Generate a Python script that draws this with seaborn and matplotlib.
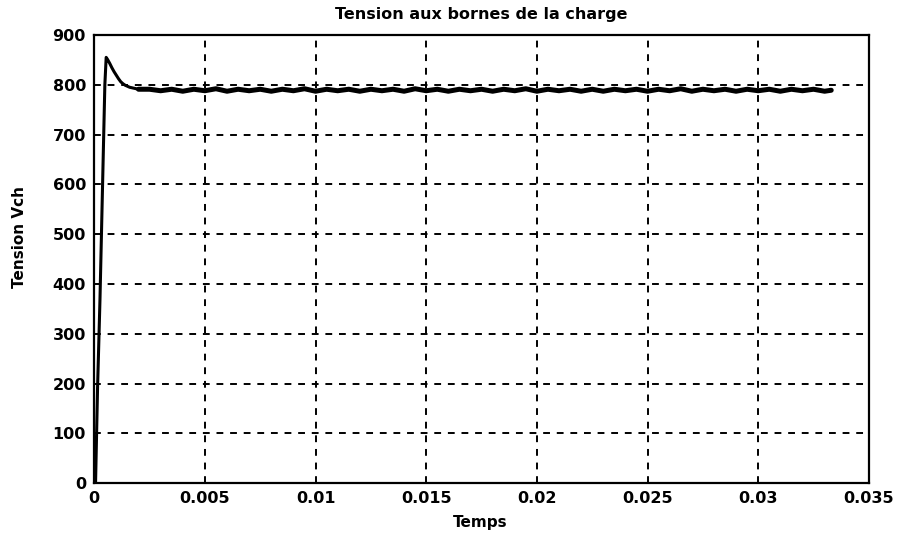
import matplotlib
matplotlib.use("Agg")
import matplotlib.pyplot as plt
import seaborn as sns
import pandas as pd
from matplotlib.ticker import FixedLocator, FixedFormatter

# ---- data ----
t_transient = [0.0, 0.00006, 0.00015, 0.00026, 0.00037, 0.00048, 0.00054,
               0.00060, 0.00070, 0.00080, 0.00090, 0.0010, 0.0011, 0.0012,
               0.0013, 0.0014, 0.0016, 0.0018, 0.0020]
v_transient = [0, 0, 190, 369, 585, 800, 855,
               851, 843, 834, 826, 819, 812, 806,
               802, 799, 795, 793, 791]

t_steady = [0.0025, 0.0030, 0.0035, 0.0040, 0.0045, 0.0050, 0.0055, 0.0060, 0.0065, 0.0070,
            0.0075, 0.0080, 0.0085, 0.0090, 0.0095, 0.0100, 0.0105, 0.0110, 0.0115, 0.0120,
            0.0125, 0.0130, 0.0135, 0.0140, 0.0145, 0.0150, 0.0155, 0.0160, 0.0165, 0.0170,
            0.0175, 0.0180, 0.0185, 0.0190, 0.0195, 0.0200, 0.0205, 0.0210, 0.0215, 0.0220,
            0.0225, 0.0230, 0.0235, 0.0240, 0.0245, 0.0250, 0.0255, 0.0260, 0.0265, 0.0270,
            0.0275, 0.0280, 0.0285, 0.0290, 0.0295, 0.0300, 0.0305, 0.0310, 0.0315, 0.0320,
            0.0325, 0.0330, 0.0333]
v_steady = [791, 788, 791, 787, 791, 788, 792, 787, 791, 788,
            791, 787, 791, 788, 792, 787, 791, 788, 791, 787,
            791, 788, 791, 787, 792, 788, 791, 787, 791, 788,
            791, 787, 791, 788, 792, 787, 791, 788, 791, 787,
            791, 787, 791, 788, 791, 787, 791, 788, 792, 787,
            791, 788, 791, 787, 791, 788, 791, 787, 791, 788,
            791, 787, 789]

x_ticks = [0, 0.005, 0.01, 0.015, 0.02, 0.025, 0.03, 0.035]
x_tick_labels = ["0", "0.005", "0.01", "0.015", "0.02", "0.025", "0.03", "0.035"]
y_ticks = [0, 100, 200, 300, 400, 500, 600, 700, 800, 900]
y_tick_labels = ["0", "100", "200", "300", "400", "500", "600", "700", "800", "900"]

title_text = "Tension aux bornes de la charge"
x_label = "Temps"
y_label = "Tension Vch"

df_tr = pd.DataFrame({"t": t_transient, "v": v_transient})
df_st = pd.DataFrame({"t": t_transient[-1:] + t_steady, "v": v_transient[-1:] + v_steady})

# ---- style ----
sns.set_style("white")
plt.rcParams["font.family"] = ["DejaVu Sans"]
plt.rcParams["font.weight"] = "bold"
plt.rcParams["text.color"] = "black"
plt.rcParams["axes.labelcolor"] = "black"

fig = plt.figure(figsize=(9.06, 5.38), dpi=100)
ax = fig.add_axes([0.104, 0.102, 0.855, 0.833])

sns.lineplot(data=df_tr, x="t", y="v", ax=ax, color="black", linewidth=2.2,
             sort=False, estimator=None)
sns.lineplot(data=df_st, x="t", y="v", ax=ax, color="black", linewidth=3.6,
             sort=False, estimator=None)

ax.set_xlim(0, 0.035)
ax.set_ylim(0, 900)
ax.xaxis.set_major_locator(FixedLocator(x_ticks))
ax.xaxis.set_major_formatter(FixedFormatter(x_tick_labels))
ax.yaxis.set_major_locator(FixedLocator(y_ticks))
ax.yaxis.set_major_formatter(FixedFormatter(y_tick_labels))

ax.grid(True, color="black", linestyle=(0, (3.5, 3.5)), linewidth=1.4)
ax.set_axisbelow(True)

for s in ax.spines.values():
    s.set_visible(True)
    s.set_color("black")
    s.set_linewidth(1.6)

ax.tick_params(axis="both", direction="in", length=4, width=1.2,
               labelsize=11.5, colors="black", pad=6)
for lab in ax.get_xticklabels() + ax.get_yticklabels():
    lab.set_fontweight("bold")

ax.set_title(title_text, fontsize=11.5, fontweight="bold", color="black",
             y=1.036, pad=0)
ax.set_xlabel(x_label, fontsize=11, fontweight="bold", color="black")
ax.set_ylabel(y_label, fontsize=11, fontweight="bold", color="black")
ax.xaxis.set_label_coords(0.498, -0.087)
ax.yaxis.set_label_coords(-0.097, 0.55)
ax.xaxis.label.set_va("center")
ax.yaxis.label.set_va("center")

fig.savefig("out.png", dpi=100, facecolor="white")
